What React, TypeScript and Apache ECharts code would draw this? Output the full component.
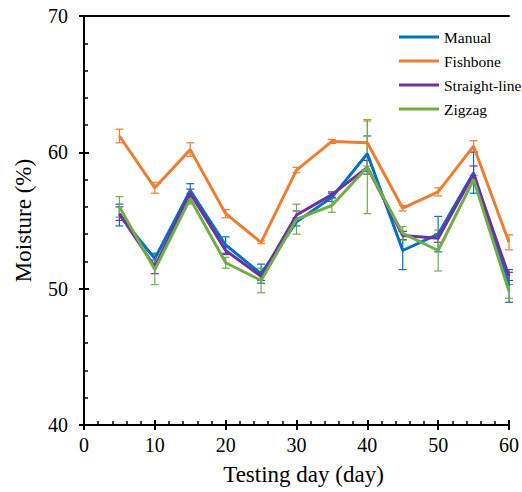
import React, { useEffect, useRef } from "react";
import * as echarts from "echarts";

const days = [5, 10, 15, 20, 25, 30, 35, 40, 45, 50, 55, 60];
const xTicks = [0, 10, 20, 30, 40, 50, 60];
const yTicks = [40, 50, 60, 70];

const manual = [55.4, 52.2, 57.2, 53.2, 51.1, 54.9, 56.7, 59.9, 52.8, 54.0, 58.5, 50.2];
const manualErr = [0.8, 0.4, 0.5, 0.6, 0.7, 0.3, 0.3, 1.3, 1.4, 1.3, 1.5, 1.2];
const fishbone = [61.2, 57.4, 60.2, 55.5, 53.4, 58.7, 60.8, 60.7, 55.9, 57.1, 60.45, 53.4];
const fishboneErr = [0.5, 0.4, 0.5, 0.3, 0.1, 0.2, 0.15, 1.7, 0.2, 0.3, 0.4, 0.55];
const straight = [55.5, 51.6, 57.0, 52.8, 50.9, 55.4, 56.9, 58.9, 53.9, 53.7, 58.4, 50.9];
const straightErr = [0.5, 0.5, 0.3, 0.3, 0.3, 0.3, 0.2, 0.5, 0.3, 0.3, 0.6, 0.3];
const zigzag = [56.0, 51.4, 56.6, 51.9, 50.6, 55.1, 56.1, 58.9, 54.05, 52.8, 58.0, 49.8];
const zigzagErr = [0.75, 1.1, 0.4, 0.4, 0.9, 1.1, 0.5, 3.4, 0.5, 1.5, 0.3, 0.5];

const seriesDefs = [
  { name: "Manual", values: manual, errs: manualErr, color: "#0070C0" },
  { name: "Fishbone", values: fishbone, errs: fishboneErr, color: "#ED7D31" },
  { name: "Straight-line", values: straight, errs: straightErr, color: "#7030A0" },
  { name: "Zigzag", values: zigzag, errs: zigzagErr, color: "#70AD47" },
];

const FONT = '"Liberation Serif", "Times New Roman", serif';

export default function App() {
  const ref = useRef<HTMLDivElement>(null);
  useEffect(() => {
    if (!ref.current) return;
    const chart = echarts.init(ref.current, undefined, { renderer: "svg" });
    const series: any[] = [];
    seriesDefs.forEach((s) => {
      series.push({
        name: s.name,
        type: "line",
        color: s.color,
        data: days.map((d, i) => [d, s.values[i]]),
        symbol: "none",
        lineStyle: { width: 3, color: s.color },
        xAxisIndex: 0,
        yAxisIndex: 0,
      });
    });
    seriesDefs.forEach((s) => {
      series.push({
        name: s.name,
        type: "custom",
        color: s.color,
        xAxisIndex: 0,
        yAxisIndex: 0,
        data: days.map((d, i) => [d, s.values[i] - s.errs[i], s.values[i] + s.errs[i]]),
        encode: { x: 0, y: [1, 2] },
        renderItem: (params: any, api: any) => {
          const lo = api.coord([api.value(0), api.value(1)]);
          const hi = api.coord([api.value(0), api.value(2)]);
          const hw = 4;
          const style = { stroke: s.color, lineWidth: 1.2 };
          return {
            type: "group",
            children: [
              { type: "line", shape: { x1: lo[0], y1: lo[1], x2: hi[0], y2: hi[1] }, style },
              { type: "line", shape: { x1: lo[0] - hw, y1: lo[1], x2: lo[0] + hw, y2: lo[1] }, style },
              { type: "line", shape: { x1: hi[0] - hw, y1: hi[1], x2: hi[0] + hw, y2: hi[1] }, style },
            ],
          };
        },
      });
    });

    const axisLine = { show: true, lineStyle: { color: "#000", width: 2 } };
    chart.setOption({
      animation: false,
      backgroundColor: "#fff",
      textStyle: { fontFamily: FONT, color: "#000" },
      grid: { left: 84, top: 16, right: 6, bottom: 67, containLabel: false },
      legend: {
        data: seriesDefs.map((s) => s.name),
        orient: "vertical",
        left: 394,
        top: 24,
        icon: "rect",
        itemWidth: 40,
        itemHeight: 3,
        itemGap: 8,
        textStyle: { fontFamily: FONT, fontSize: 15.5, lineHeight: 16, color: "#000", fontWeight: "normal" },
      },
      xAxis: [
        {
          type: "value",
          min: xTicks[0],
          max: xTicks[xTicks.length - 1],
          interval: 10,
          position: "bottom",
          axisLine,
          axisTick: { show: true, length: 5, inside: false, lineStyle: { color: "#000", width: 2 } },
          axisLabel: { fontFamily: FONT, fontSize: 20, color: "#000", margin: 10 },
          splitLine: { show: false },
          name: "Testing day (day)",
          nameLocation: "middle",
          nameGap: 38,
          nameTextStyle: { fontFamily: FONT, fontSize: 23, color: "#000", padding: [0, 0, 0, 14] },
        },
        {
          type: "value",
          min: xTicks[0],
          max: xTicks[xTicks.length - 1],
          interval: 10,
          position: "bottom",
          axisLine: { show: false },
          axisTick: { show: true, length: 5, inside: true, lineStyle: { color: "#000", width: 2 } },
          minorTick: { show: true, splitNumber: 5, length: 4, lineStyle: { color: "#000", width: 1.5 } },
          axisLabel: { show: false },
          splitLine: { show: false },
        },
        {
          type: "value",
          min: xTicks[0],
          max: xTicks[xTicks.length - 1],
          position: "top",
          axisLine,
          axisTick: { show: false },
          axisLabel: { show: false },
          splitLine: { show: false },
        },
      ],
      yAxis: [
        {
          type: "value",
          min: yTicks[0],
          max: yTicks[yTicks.length - 1],
          interval: 10,
          position: "left",
          axisLine,
          axisTick: { show: true, length: 5, inside: false, lineStyle: { color: "#000", width: 2 } },
          axisLabel: { fontFamily: FONT, fontSize: 20, color: "#000", margin: 16 },
          splitLine: { show: false },
          name: "Moisture (%)",
          nameLocation: "middle",
          nameGap: 49,
          nameTextStyle: { fontFamily: FONT, fontSize: 23, color: "#000" },
        },
        {
          type: "value",
          min: yTicks[0],
          max: yTicks[yTicks.length - 1],
          interval: 10,
          position: "left",
          axisLine: { show: false },
          axisTick: { show: true, length: 5, inside: true, lineStyle: { color: "#000", width: 2 } },
          minorTick: { show: true, splitNumber: 5, length: 4, lineStyle: { color: "#000", width: 1.5 } },
          axisLabel: { show: false },
          splitLine: { show: false },
        },
      ],
      series,
    });
    return () => chart.dispose();
  }, []);
  return (
    <div
      ref={ref}
      style={{ position: "fixed", left: 0, top: 0, width: 522, height: 492, background: "#fff" }}
    />
  );
}
